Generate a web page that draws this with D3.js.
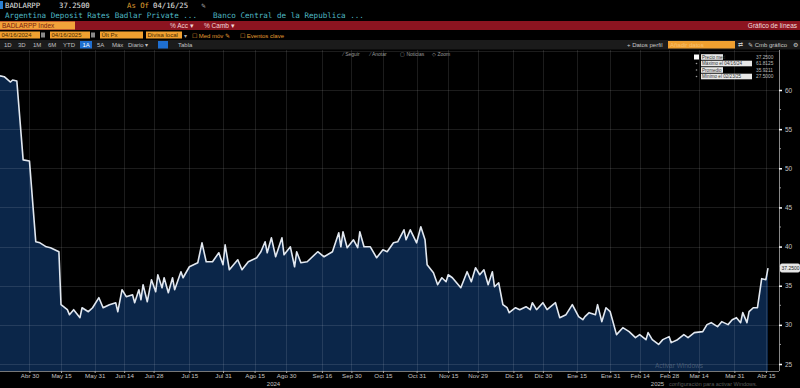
<!DOCTYPE html>
<html>
<head>
<meta charset="utf-8">
<script src="https://cdn.jsdelivr.net/npm/d3@7"></script>
<style>
  body { margin: 0; background: #000; overflow: hidden; }
  svg { display: block; }
</style>
</head>
<body>
<svg id="chart" width="800" height="388"></svg>
<script>

// BADLARPP Index, 04/16/2024 - 04/16/2025
const dates = [
  '2024-04-16','2024-04-18','2024-04-21','2024-04-22','2024-04-24','2024-04-27','2024-04-30','2024-05-03','2024-05-05','2024-05-08',
  '2024-05-10','2024-05-12','2024-05-14','2024-05-15','2024-05-18','2024-05-19','2024-05-21','2024-05-24','2024-05-25','2024-05-28',
  '2024-05-30','2024-06-02','2024-06-04','2024-06-07','2024-06-10','2024-06-11','2024-06-13','2024-06-15','2024-06-18','2024-06-19',
  '2024-06-21','2024-06-22','2024-06-23','2024-06-25','2024-06-27','2024-06-29','2024-06-30','2024-07-02','2024-07-03','2024-07-05',
  '2024-07-07','2024-07-08','2024-07-11','2024-07-12','2024-07-15','2024-07-19','2024-07-21','2024-07-23','2024-07-26','2024-07-29',
  '2024-07-31','2024-08-01','2024-08-03','2024-08-07','2024-08-09','2024-08-12','2024-08-16','2024-08-18','2024-08-20','2024-08-21',
  '2024-08-23','2024-08-25','2024-08-28','2024-08-29','2024-09-01','2024-09-03','2024-09-04','2024-09-06','2024-09-09','2024-09-14',
  '2024-09-17','2024-09-21','2024-09-24','2024-09-25','2024-09-26','2024-09-28','2024-10-01','2024-10-03','2024-10-04','2024-10-06',
  '2024-10-09','2024-10-12','2024-10-15','2024-10-17','2024-10-20','2024-10-22','2024-10-25','2024-10-26','2024-10-28','2024-10-31',
  '2024-11-02','2024-11-04','2024-11-05','2024-11-08','2024-11-10','2024-11-12','2024-11-14','2024-11-15','2024-11-17','2024-11-21',
  '2024-11-24','2024-11-26','2024-11-28','2024-11-30','2024-12-02','2024-12-04','2024-12-06','2024-12-07','2024-12-09','2024-12-11',
  '2024-12-13','2024-12-14','2024-12-17','2024-12-19','2024-12-22','2024-12-24','2024-12-25','2024-12-27','2024-12-30','2025-01-01',
  '2025-01-05','2025-01-07','2025-01-10','2025-01-13','2025-01-16','2025-01-18','2025-01-19','2025-01-21','2025-01-24','2025-01-25',
  '2025-01-27','2025-01-29','2025-01-31','2025-02-03','2025-02-06','2025-02-09','2025-02-12','2025-02-14','2025-02-17','2025-02-18',
  '2025-02-20','2025-02-23','2025-02-25','2025-02-28','2025-03-01','2025-03-04','2025-03-07','2025-03-09','2025-03-12','2025-03-16',
  '2025-03-18','2025-03-20','2025-03-23','2025-03-25','2025-03-28','2025-03-30','2025-04-01','2025-04-03','2025-04-04','2025-04-06',
  '2025-04-07','2025-04-09','2025-04-11','2025-04-13','2025-04-15','2025-04-16'
]

const values = [
  61.81,61.70,61.02,61.28,61.15,51.07,50.94,40.61,40.48,39.97,
  39.85,39.59,39.34,32.58,31.94,31.30,31.94,30.92,32.19,31.68,
  32.19,33.47,32.19,32.58,32.83,31.68,34.49,33.60,33.85,32.83,
  34.49,33.21,35.13,32.96,35.77,34.23,36.40,34.74,36.02,34.11,
  36.02,34.49,36.79,36.02,37.42,37.93,40.48,38.06,38.06,39.21,
  37.68,40.22,37.04,38.32,37.04,38.06,38.57,39.34,40.61,39.21,
  41.12,38.70,41.12,38.95,39.97,37.42,39.34,37.93,38.06,39.34,
  38.70,39.34,41.76,39.97,41.89,39.85,40.87,39.85,41.89,39.97,
  39.97,38.57,39.59,39.34,40.48,40.61,42.14,40.87,42.14,40.48,
  42.53,40.87,37.68,36.66,35.13,36.02,35.51,36.40,36.02,34.74,
  36.79,35.51,37.30,36.40,37.04,35.13,36.79,34.87,35.38,32.58,
  32.19,31.56,32.19,31.94,32.32,31.94,32.83,31.94,32.83,31.94,
  32.83,30.92,31.30,32.58,31.05,30.66,31.05,31.56,31.30,32.58,
  30.41,32.19,31.68,28.75,29.64,29.13,28.37,28.75,28.11,29.01,
  28.11,27.50,28.11,28.50,27.73,28.11,28.75,28.37,29.01,29.13,
  30.03,30.28,29.77,30.41,30.03,30.66,30.92,30.28,31.56,30.28,
  31.68,32.19,32.19,35.90,35.77,37.25
]

const xTickDates = [
  '2024-04-30','2024-05-15','2024-05-31','2024-06-14','2024-06-28','2024-07-15','2024-07-31','2024-08-15',
  '2024-08-30','2024-09-16','2024-09-30','2024-10-15','2024-10-31','2024-11-15','2024-11-29','2024-12-16',
  '2024-12-30','2025-01-15','2025-01-31','2025-02-14','2025-02-28','2025-03-14','2025-03-31','2025-04-15'
]
const xTickLabels = [
  'Abr 30','May 15','May 31','Jun 14','Jun 28','Jul 15','Jul 31','Ago 15',
  'Ago 30','Sep 16','Sep 30','Oct 15','Oct 31','Nov 15','Nov 29','Dic 16',
  'Dic 30','Ene 15','Ene 31','Feb 14','Feb 28','Mar 14','Mar 31','Abr 15'
]
const yTicks = [25, 30, 35, 40, 45, 50, 55, 60]
const yGrid = [25, 30, 35, 40, 45, 50, 55, 60, 65]

const legendLabels = ['Precio med', 'Máximo el 04/16/24', 'Promedio', 'Mínimo el 02/23/25']
const legendValues = ['37.2500', '61.8125', '35.9211', '27.5000']
const lastValue = 37.25

const parse = d3.timeParse('%Y-%m-%d')
const data = dates.map((d, i) => [parse(d), values[i]])

var plot = {left: 0, right: 779, top: 50, bottom: 371}

var xScale = d3.scaleTime()
    .domain([parse('2024-04-16'), parse('2025-04-16')])
    .range([0, 768])

var yScale = d3.scaleLinear()
    .domain([25, 60])
    .range([364, 90])

var svg = d3.select('#chart')
var sans = 'Liberation Sans, Arial, sans-serif'
var mono = 'DejaVu Sans Mono, monospace'

// ---- chart ----

var area = d3.area()
    .x(d => xScale(d[0]))
    .y0(plot.bottom)
    .y1(d => yScale(d[1]))

var line = d3.line()
    .x(d => xScale(d[0]))
    .y(d => yScale(d[1]))

svg.append('path')
    .datum(data)
    .attr('fill', '#0b2649')
    .attr('d', area)

// grid over the fill, faint
svg.append('g')
    .selectAll('line')
    .data(yGrid)
    .join('line')
    .attr('x1', plot.left)
    .attr('x2', plot.right)
    .attr('y1', d => Math.round(yScale(d)) + 0.5)
    .attr('y2', d => Math.round(yScale(d)) + 0.5)
    .attr('stroke', '#fff')
    .attr('stroke-opacity', 0.11)

svg.append('g')
    .selectAll('line')
    .data(xTickDates)
    .join('line')
    .attr('x1', d => Math.round(xScale(parse(d))) + 0.5)
    .attr('x2', d => Math.round(xScale(parse(d))) + 0.5)
    .attr('y1', plot.top)
    .attr('y2', plot.bottom)
    .attr('stroke', '#fff')
    .attr('stroke-opacity', 0.11)

svg.append('path')
    .datum(data)
    .attr('fill', 'none')
    .attr('stroke', '#e2e8f0')
    .attr('stroke-width', 1.6)
    .attr('stroke-linejoin', 'round')
    .attr('d', line)

// x axis
var xAxis = svg.append('g')
    .attr('transform', `translate(0,${plot.bottom})`)
    .call(d3.axisBottom(xScale)
        .tickValues(xTickDates.map(parse))
        .tickFormat((d, k) => xTickLabels[k])
        .tickSize(2)
        .tickPadding(1))

xAxis.select('.domain')
    .attr('d', `M0,0.5H${plot.right}`)
    .attr('stroke', '#777')

xAxis.selectAll('.tick line').attr('stroke', '#aaa')
xAxis.selectAll('text')
    .attr('font-family', sans)
    .attr('font-size', '6.2px')
    .attr('fill', '#c4c4c4')

// year labels centred on the visible part of each year
var yearSplit = xScale(parse('2025-01-01'))
var years = [['2024', (0 + yearSplit) / 2], ['2025', (yearSplit + 768) / 2]]

svg.append('g')
    .selectAll('text')
    .data(years)
    .join('text')
    .attr('x', d => d[1])
    .attr('y', 386)
    .attr('text-anchor', 'middle')
    .attr('font-family', sans)
    .attr('font-size', '6px')
    .attr('fill', '#c4c4c4')
    .text(d => d[0])

// y axis on the right
var yAxis = svg.append('g')
    .attr('transform', `translate(${plot.right},0)`)
    .call(d3.axisRight(yScale)
        .tickValues(yTicks)
        .tickSize(3)
        .tickPadding(3))

yAxis.select('.domain')
    .attr('d', `M0.5,${plot.top}V${plot.bottom}`)
    .attr('stroke', '#888')

yAxis.selectAll('.tick line').attr('stroke', '#fff').attr('stroke-width', 1.5)
yAxis.selectAll('text')
    .attr('font-family', sans)
    .attr('font-size', '6.5px')
    .attr('fill', '#c4c4c4')

// minor ticks
svg.append('g')
    .selectAll('line')
    .data(d3.range(27.5, 62, 5))
    .join('line')
    .attr('x1', plot.right)
    .attr('x2', plot.right + 2)
    .attr('y1', d => yScale(d))
    .attr('y2', d => yScale(d))
    .attr('stroke', '#999')

// last value tag
var tag = svg.append('g')
    .attr('transform', `translate(780,${yScale(lastValue)})`)

tag.append('rect')
    .attr('x', 0)
    .attr('y', -4.5)
    .attr('width', 20)
    .attr('height', 9)
    .attr('rx', 2)
    .attr('fill', '#e6e6e6')

tag.append('text')
    .attr('x', 1.5)
    .attr('y', 1.8)
    .attr('font-family', sans)
    .attr('font-size', '5px')
    .attr('fill', '#222')
    .text('37.2500')

// legend
var legend = svg.append('g')

legendLabels.forEach(function(label, i) {
    var cy = 57 + i * 6.5
    var boxW = label.length > 10 ? 51 : 22

    if (i === 0) {
        legend.append('rect')
            .attr('x', 694).attr('y', cy - 2.5)
            .attr('width', 5).attr('height', 5)
            .attr('fill', '#fff')
    } else {
        legend.append('circle')
            .attr('cx', 696.5).attr('cy', cy)
            .attr('r', 0.8)
            .attr('fill', '#999')
    }

    legend.append('rect')
        .attr('x', 701).attr('y', cy - 2.8)
        .attr('width', boxW).attr('height', 5.6)
        .attr('fill', '#e8e8e8')

    legend.append('text')
        .attr('x', 702).attr('y', cy + 1.7)
        .attr('font-family', sans)
        .attr('font-size', '4.6px')
        .attr('fill', '#333')
        .text(label)

    legend.append('text')
        .attr('x', 756).attr('y', cy + 1.7)
        .attr('font-family', sans)
        .attr('font-size', '4.8px')
        .attr('fill', '#bbb')
        .text(legendValues[i])
})

// windows watermark
svg.append('text')
    .attr('x', 655).attr('y', 368)
    .attr('font-family', sans)
    .attr('font-size', '6.5px')
    .attr('fill', '#fff')
    .attr('fill-opacity', 0.22)
    .text('Activar Windows')

svg.append('text')
    .attr('x', 669).attr('y', 386)
    .attr('font-family', sans)
    .attr('font-size', '5.5px')
    .attr('fill', '#fff')
    .attr('fill-opacity', 0.35)
    .text('configuración para activar Windows.')

// ---- terminal header ----

var head = svg.append('g')

function txt(x, y, s, opts) {
    opts = opts || {}
    return head.append('text')
        .attr('x', x).attr('y', y)
        .attr('font-family', opts.font || sans)
        .attr('font-size', opts.size || '6px')
        .attr('fill', opts.fill || '#c8c8c8')
        .attr('text-anchor', opts.anchor || 'start')
        .text(s)
}

head.append('rect').attr('x', 0).attr('y', 1).attr('width', 3).attr('height', 8).attr('fill', '#2a7fd4')
txt(5, 8, 'BADLARPP', {font: mono, size: '7.3px', fill: '#e6e6e6'})
txt(59, 8, '37.2500', {font: mono, size: '7.3px', fill: '#e6e6e6'})
txt(127, 8, 'As Of', {font: mono, size: '7.3px', fill: '#e0a030'})
txt(153, 8, '04/16/25', {font: mono, size: '7.3px', fill: '#e6e6e6'})
txt(201, 8, '✎', {size: '6px', fill: '#aaa'})

txt(5, 17.5, 'Argentina Deposit Rates Badlar Private ...', {font: mono, size: '7.6px', fill: '#4fb8c4'})
txt(213, 17.5, 'Banco Central de la Republica ...', {font: mono, size: '7.6px', fill: '#4fb8c4'})

// red command bar
head.append('rect').attr('x', 0).attr('y', 21).attr('width', 800).attr('height', 9).attr('fill', '#8c1420')
head.append('rect').attr('x', 0).attr('y', 21.5).attr('width', 75).attr('height', 8).attr('fill', '#f2a23a')
txt(2, 28, 'BADLARPP Index', {size: '6.5px', fill: '#7a2010'})
txt(170, 28, '% Acc ▾', {size: '6.5px', fill: '#f3d6d6'})
txt(204, 28, '% Camb ▾', {size: '6.5px', fill: '#f3d6d6'})
txt(797, 28, 'Gráfico de líneas', {size: '6.5px', fill: '#f3dede', anchor: 'end'})

// date / field row
var fieldBoxes = [[0, 40, '04/16/2024'], [50, 90, '04/16/2025'], [100, 143, 'Últ Px'], [146, 182, 'Divisa local']]
fieldBoxes.forEach(function(b) {
    head.append('rect').attr('x', b[0]).attr('y', 31.5).attr('width', b[1] - b[0]).attr('height', 7).attr('fill', '#f0a030')
    txt(b[0] + 1.5, 37.3, b[2], {size: '6px', fill: '#4a2a00'})
})
head.append('rect').attr('x', 41).attr('y', 32.5).attr('width', 4).attr('height', 5).attr('fill', '#888')
head.append('rect').attr('x', 91).attr('y', 32.5).attr('width', 4).attr('height', 5).attr('fill', '#888')
txt(184, 37.5, '▾', {size: '6px', fill: '#aaa'})
txt(192, 37.5, '☐ Med móv ✎', {size: '6px', fill: '#e09a30'})
txt(240, 37.5, '☐ Eventos clave', {size: '6px', fill: '#e09a30'})

// range bar
head.append('rect').attr('x', 0).attr('y', 40).attr('width', 800).attr('height', 9.5).attr('fill', '#1b1b1b')
head.append('rect').attr('x', 80).attr('y', 41).attr('width', 12).attr('height', 7.5).attr('fill', '#1f6fd0')
head.append('rect').attr('x', 158).attr('y', 41).attr('width', 10).attr('height', 7.5).attr('fill', '#1f6fd0')
var ranges = [[4, '1D'], [18, '3D'], [33, '1M'], [48, '6M'], [63, 'YTD'], [82.5, '1A'], [97, '5A'], [112, 'Máx'], [128, 'Diario ▾'], [178, 'Tabla']]
ranges.forEach(r => txt(r[0], 46.8, r[1], {size: '6px', fill: r[1] === '1A' ? '#fff' : '#c0c0c0'}))

txt(627, 46.8, '+ Datos perfil', {size: '6px', fill: '#c8c8c8'})
head.append('rect').attr('x', 668).attr('y', 41).attr('width', 67).attr('height', 7.5).attr('fill', '#f0a030')
txt(670, 46.8, 'Añadir datos', {size: '6px', fill: '#f8c070'})
txt(738, 46.8, '⇄', {size: '6px', fill: '#c8c8c8'})
txt(748, 46.8, '✎ Cmb gráfico', {size: '6px', fill: '#c8c8c8'})
txt(793, 46.8, '⚙', {size: '6px', fill: '#c8c8c8'})

// annotation tools
txt(343, 55.5, '⁄ Seguir', {size: '5px', fill: '#999'})
txt(370, 55.5, '⁄ Anotar', {size: '5px', fill: '#999'})
txt(400, 55.5, '▢ Noticias', {size: '5px', fill: '#999'})
txt(432, 55.5, '◇ Zoom', {size: '5px', fill: '#999'})

</script>
</body>
</html>
